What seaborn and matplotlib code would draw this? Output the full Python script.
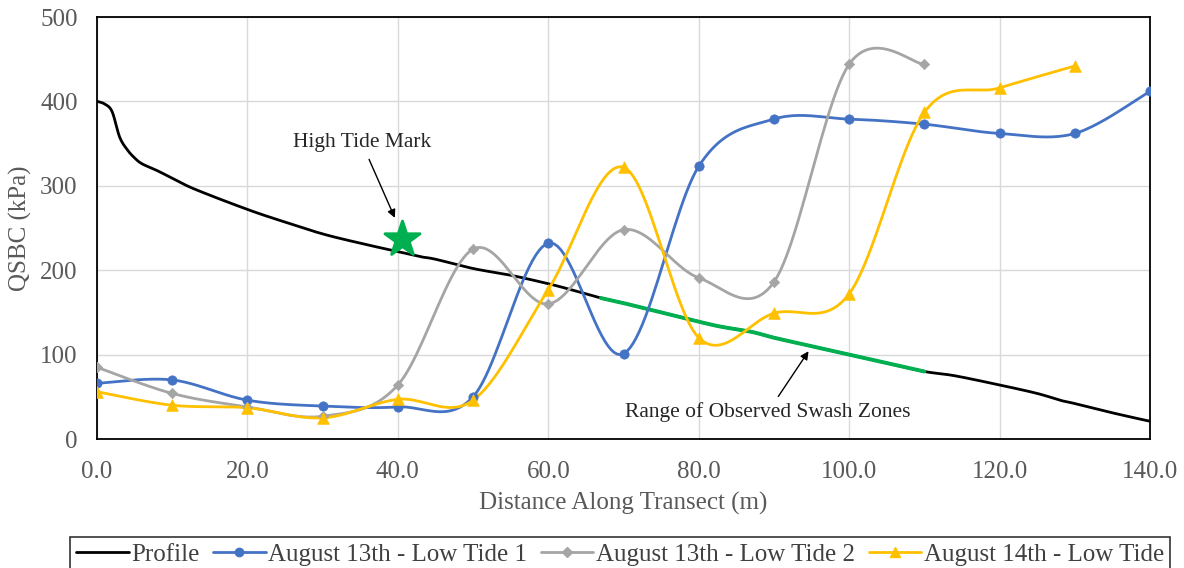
import numpy as np
import pandas as pd
import matplotlib
matplotlib.use("Agg")
import matplotlib.pyplot as plt
import seaborn as sns
from matplotlib.lines import Line2D

# ---------------- data ----------------
distance = [0, 10, 20, 30, 40, 50, 60, 70, 80, 90, 100, 110, 120, 130, 140]
aug13_lt1 = [66, 70, 46, 39, 38, 50, 232, 101, 323, 379, 379, 373, 362, 362, 412]
aug13_lt2 = [85, 54, 38, 27, 64, 225, 160, 248, 191, 186, 444, 444]
aug14_lt = [56, 40, 37, 25, 47, 46, 177, 322, 120, 149, 172, 387, 416, 442]

profile_x = [0, 1, 2, 3, 4, 5, 6, 8, 10, 13, 20, 25, 30, 35, 40, 43, 45, 50, 55,
             60, 63, 65, 67, 70, 75, 80, 83, 87, 90, 95, 100, 105, 110, 114,
             120, 125, 128, 130, 135, 140]
profile_y = [400, 397, 388, 358, 343, 333, 326, 318, 309, 296, 272, 257, 243, 232,
             222, 216, 213, 202, 194, 184, 177, 172, 167, 161, 150, 139, 133, 127,
             120, 110, 100, 90, 80, 75, 64, 54, 46, 42, 31, 21]
swash_start, swash_end = 67, 110
high_tide_x, high_tide_y = 40.5, 237

series_names = ["Profile", "August 13th - Low Tide 1", "August 13th - Low Tide 2",
                "August 14th - Low Tide"]
x_ticks = [0, 20, 40, 60, 80, 100, 120, 140]
y_ticks = [0, 100, 200, 300, 400, 500]

# ---------------- helpers ----------------
def smooth(x, y, n=24):
    """Excel-style smoothed line (cubic Bezier / Catmull-Rom)."""
    P = np.column_stack([x, y]).astype(float)
    out = [P[0:1]]
    t = np.linspace(0, 1, n + 1)[1:, None]
    for i in range(len(P) - 1):
        p0 = P[i - 1] if i > 0 else P[i]
        p1, p2 = P[i], P[i + 1]
        p3 = P[i + 2] if i + 2 < len(P) else P[i + 1]
        c1 = p1 + (p2 - p0) / 6.0
        c2 = p2 - (p3 - p1) / 6.0
        seg = ((1 - t) ** 3) * p1 + 3 * ((1 - t) ** 2) * t * c1 \
            + 3 * (1 - t) * t ** 2 * c2 + t ** 3 * p2
        out.append(seg)
    return np.vstack(out)

sns.set_theme(style="white")
plt.rcParams["font.family"] = ["Liberation Serif", "DejaVu Serif"]

fig = plt.figure(figsize=(11.84, 5.68), dpi=100)
ax = fig.add_axes([97 / 1184, 1 - 439 / 568, (1150 - 97) / 1184, (439 - 17) / 568])

BLUE, GRAY, YELLOW, GREEN = "#4472C4", "#A5A5A5", "#FFC000", "#00B050"
LW = 2.0
FS = 18

# profile
pc = smooth(profile_x, profile_y)
sns.lineplot(x=pc[:, 0], y=pc[:, 1], sort=False, estimator=None, color="black",
             lw=LW, ax=ax)
# swash zone range
px = np.array(profile_x)
py = np.array(profile_y)
m = (px >= swash_start) & (px <= swash_end)
gc = smooth(px[m], py[m])
sns.lineplot(x=gc[:, 0], y=gc[:, 1], sort=False, estimator=None, color=GREEN,
             lw=LW + 0.8, ax=ax)

for vals, col, mk, s in [(aug13_lt1, BLUE, "o", 45),
                         (aug13_lt2, GRAY, "D", 28),
                         (aug14_lt, YELLOW, "^", 70)]:
    xs = distance[:len(vals)]
    c = smooth(xs, vals)
    sns.lineplot(x=c[:, 0], y=c[:, 1], sort=False, estimator=None, color=col,
                 lw=LW, ax=ax)
    sns.scatterplot(x=xs, y=vals, marker=mk, s=s, color=col, edgecolor=col,
                    linewidth=0.5, ax=ax, zorder=5)

# high tide star
sns.scatterplot(x=[high_tide_x], y=[high_tide_y], marker="*", s=700, color=GREEN,
                edgecolor=GREEN, ax=ax, zorder=6)

# annotations
ax.annotate("High Tide Mark", xy=(39.6, 262), xytext=(35.2, 351),
            ha="center", va="center", fontsize=15.5,
            arrowprops=dict(arrowstyle="-|>", color="black", lw=1.0,
                            shrinkA=3, shrinkB=0, mutation_scale=12))
ax.annotate("Range of Observed Swash Zones", xy=(94.6, 104), xytext=(89.2, 32),
            ha="center", va="center", fontsize=15.5,
            arrowprops=dict(arrowstyle="-|>", color="black", lw=1.0,
                            shrinkA=2, shrinkB=0, mutation_scale=12))

ax.set_xlim(0, 140)
ax.set_ylim(0, 500)
ax.set_xticks(x_ticks)
ax.set_xticklabels([f"{v:.1f}" for v in x_ticks])
ax.set_yticks(y_ticks)
ax.tick_params(axis="both", length=0, labelsize=FS, colors="#595959")
ax.tick_params(axis="x", pad=16)
ax.tick_params(axis="y", pad=14)
ax.grid(True, color="#D9D9D9", lw=1.0)
ax.set_axisbelow(True)
for sp in ax.spines.values():
    sp.set_color("black")
    sp.set_linewidth(1.3)
ax.set_xlabel("Distance Along Transect (m)", fontsize=FS, color="#595959", labelpad=6)
ax.set_ylabel("QSBC (kPa)", fontsize=FS, color="#595959", labelpad=6)

handles = [
    Line2D([], [], color="black", lw=LW),
    Line2D([], [], color=BLUE, lw=LW, marker="o", markersize=6),
    Line2D([], [], color=GRAY, lw=LW, marker="D", markersize=5),
    Line2D([], [], color=YELLOW, lw=LW, marker="^", markersize=7),
]
leg = fig.legend(handles, series_names, loc="upper center",
                 bbox_to_anchor=(620 / 1184, 1 - 537 / 568), ncol=4, fontsize=FS,
                 frameon=True, fancybox=False, edgecolor="black", handlelength=2.1,
                 handletextpad=0.1, columnspacing=0.55, borderpad=0.25,
                 borderaxespad=0)
leg.get_frame().set_linewidth(1.2)
for t in leg.get_texts():
    t.set_color("#404040")

fig.savefig("out.png", dpi=100)
